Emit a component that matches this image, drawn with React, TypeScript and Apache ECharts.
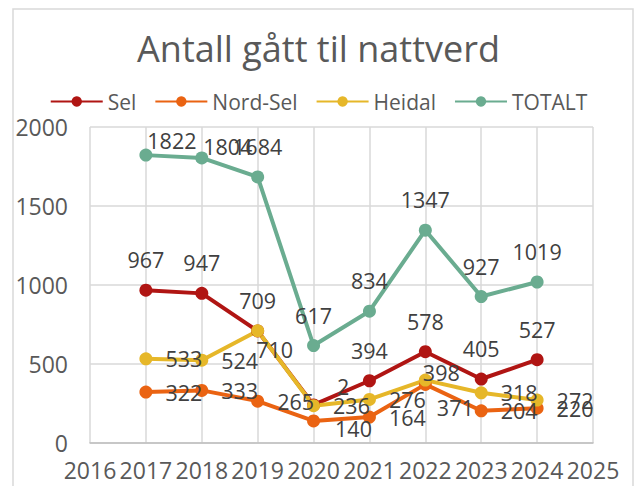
import React, { useEffect, useRef } from "react";
import * as echarts from "echarts";

const years = [2017, 2018, 2019, 2020, 2021, 2022, 2023, 2024];
const sel = [967, 947, 709, 241, 394, 578, 405, 527];
const nordSel = [322, 333, 265, 140, 164, 371, 204, 220];
const heidal = [533, 524, 710, 236, 276, 398, 318, 272];
const totalt = [1822, 1804, 1684, 617, 834, 1347, 927, 1019];
const seriesNames = ["Sel", "Nord-Sel", "Heidal", "TOTALT"];
const titleText = "Antall gått til nattverd";

const FONT = "'Open Sans', sans-serif";
const colors = ["#B01513", "#EA6312", "#E6B729", "#6AAC90"];

// per-point label adjustments (style only)
const labelTweaks: Record<string, Record<number, any>> = {
  Sel: { 3: { offset: [4, -18], position: "right", formatter: () => "2" } },
  "Nord-Sel": { 3: { offset: [2, 8] }, 5: { offset: [-8, 23] } },
  Heidal: { 2: { offset: [-21, 19] }, 5: { offset: [-22, -8] } },
  TOTALT: { 0: { offset: [26, 16] }, 1: { offset: [26, 19] } },
};

function buildSeries(name: string, values: number[], color: string, pos: string) {
  return {
    name,
    type: "line",
    data: years.map((y, i) => {
      const t = labelTweaks[name] && labelTweaks[name][i];
      return t ? { value: [y, values[i]], label: t } : { value: [y, values[i]] };
    }),
    symbol: "circle",
    symbolSize: 13,
    lineStyle: { width: 4, color },
    itemStyle: { color },
    label: {
      show: true,
      position: pos,
      distance: 13,
      fontFamily: FONT,
      fontSize: 21.5,
      color: "#404040",
      formatter: (p: any) => String(p.value[1]),
    },
  };
}

export default function App() {
  const ref = useRef<HTMLDivElement>(null);
  useEffect(() => {
    if (!ref.current) return;
    const chart = echarts.init(ref.current, undefined, { renderer: "svg" });
    chart.setOption({
      animation: false,
      backgroundColor: "#ffffff",
      color: colors,
      title: {
        text: titleText,
        left: "center",
        top: 25,
        textStyle: { fontFamily: FONT, fontSize: 36, fontWeight: "normal", color: "#595959" },
      },
      legend: {
        data: seriesNames,
        top: 86,
        left: "center",
        itemWidth: 52,
        itemHeight: 13,
        itemGap: 18,
        textStyle: { fontFamily: FONT, fontSize: 21, color: "#595959" },
      },
      grid: { left: 90, right: 44, top: 127, bottom: 43, containLabel: false },
      xAxis: {
        type: "value",
        min: 2016,
        max: 2025,
        interval: 1,
        axisLine: { show: true, lineStyle: { color: "#BFBFBF", width: 1.5 } },
        axisTick: { show: false },
        splitLine: { show: true, lineStyle: { color: "#D9D9D9", width: 1.5 } },
        axisLabel: {
          margin: 15,
          fontFamily: FONT,
          fontSize: 23,
          color: "#595959",
          formatter: (v: number) => String(v),
        },
      },
      yAxis: {
        type: "value",
        min: 0,
        max: 2000,
        interval: 500,
        axisLine: { show: false },
        axisTick: { show: false },
        splitLine: { show: true, lineStyle: { color: "#D9D9D9", width: 1.5 } },
        axisLabel: {
          margin: 22,
          fontFamily: FONT,
          fontSize: 23,
          color: "#595959",
          formatter: (v: number) => String(v),
        },
      },
      graphic: [
        {
          type: "rect",
          shape: { x: 13, y: 9, width: 620, height: 500 },
          style: { fill: "none", stroke: "#D9D9D9", lineWidth: 1.5 },
          silent: true,
        },
      ],
      series: [
        buildSeries("Sel", sel, colors[0], "top"),
        buildSeries("Nord-Sel", nordSel, colors[1], "right"),
        buildSeries("Heidal", heidal, colors[2], "right"),
        buildSeries("TOTALT", totalt, colors[3], "top"),
      ],
    });
    return () => chart.dispose();
  }, []);
  return (
    <div
      ref={ref}
      style={{ position: "absolute", left: 0, top: 0, width: 637, height: 486 }}
    />
  );
}
